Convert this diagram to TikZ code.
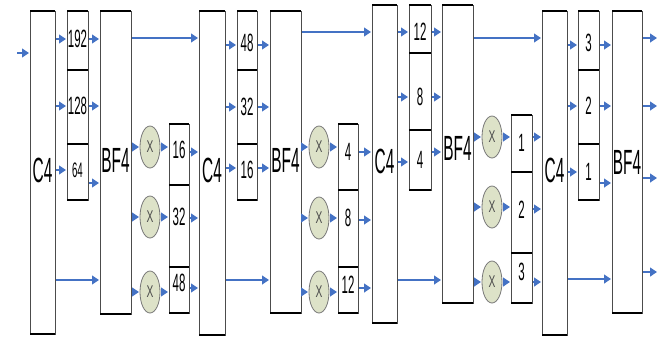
\documentclass[tikz,border=0pt]{standalone}
\usepackage{fontspec}
\setmainfont{Liberation Sans}
\newfontfamily\labfam[FakeStretch=0.44]{Liberation Sans}
\newfontfamily\numfam[FakeStretch=0.46]{Liberation Sans}
\newfontfamily\xfam[FakeStretch=0.6]{Liberation Sans}
\usetikzlibrary{arrows.meta,shapes.geometric}
\definecolor{arrblue}{RGB}{68,114,196}
\definecolor{mulfill}{RGB}{221,226,200}
\definecolor{mulline}{RGB}{120,120,120}
\tikzset{
  box/.style={draw=black!70,line width=0.7pt,inner sep=0pt,outer sep=0pt,anchor=north west},
  edge/.style={line width=1.3pt,black},
  big/.style={font=\labfam\fontsize{35}{35}\selectfont,inner sep=0pt},
  num/.style={font=\numfam\fontsize{25}{25}\selectfont,inner sep=0pt},
  numsmall/.style={font=\numfam\fontsize{21}{21}\selectfont,inner sep=0pt},
  mul/.style={ellipse,draw=mulline,fill=mulfill,line width=0.8pt,minimum width=20pt,minimum height=42pt,inner sep=0pt,outer sep=0pt,font=\xfam\fontsize{17}{17}\selectfont,text=black!70},
  arr/.style={draw=arrblue,line width=1.2pt,-{Triangle[length=7pt,width=9pt]},shorten >=1pt,shorten <=1pt}
}
% name, x1, y1, x2, y2, text, text y, text style
\newcommand\mybox[8]{%
  \node[box,minimum width={(#4-#2)*1pt},minimum height={(#5-#3)*1pt}] (#1) at (#2,#3) {};
  \draw[edge] (#1.north west) -- (#1.north east) (#1.south west) -- (#1.south east);
  \node[#8] (#1t) at ({(#2+#4)/2},#7) {#6};}
\newcommand\harr[3]{\draw[arr] (#1.east |- 0,#3) -- (#2.west |- 0,#3);}
\begin{document}
\begin{tikzpicture}[x=1pt,y=-1pt]
\useasboundingbox[fill=white] (0,0) rectangle (669,338);
% ---------- stage 1
\mybox{c1}{30}{11}{55}{334}{C4}{170}{big}
\mybox{t1a}{67}{11}{88}{70}{192}{39}{num}
\mybox{t1b}{67}{70}{88}{144}{128}{106}{num}
\mybox{t1c}{67}{144}{88}{200}{64}{170}{numsmall}
\mybox{bf1}{100}{11}{131}{314}{BF4}{160}{big}
\node[mul] (x1a) at (150,147) {X};
\node[mul] (x1b) at (150,217) {X};
\node[mul] (x1c) at (150,292) {X};
\mybox{m1a}{169}{124}{189}{185}{16}{150}{num}
\mybox{m1b}{169}{185}{189}{267}{32}{217}{num}
\mybox{m1c}{169}{267}{189}{313}{48}{283}{num}
% ---------- stage 2
\mybox{c2}{199}{11}{225}{335}{C4}{170}{big}
\mybox{t2a}{237}{11}{257}{70}{48}{43}{num}
\mybox{t2b}{237}{70}{257}{144}{32}{107}{num}
\mybox{t2c}{237}{144}{257}{200}{16}{170}{num}
\mybox{bf2}{270}{11}{301}{313}{BF4}{160}{big}
\node[mul] (x2a) at (319,147) {X};
\node[mul] (x2b) at (319,218) {X};
\node[mul] (x2c) at (319,292) {X};
\mybox{m2a}{338}{124}{358}{190}{4}{152}{num}
\mybox{m2b}{338}{190}{358}{267}{8}{218}{num}
\mybox{m2c}{338}{267}{358}{313}{12}{285}{num}
% ---------- stage 3
\mybox{c3}{372}{5}{397}{323}{C4}{161}{big}
\mybox{t3a}{409}{5}{431}{53}{12}{32}{num}
\mybox{t3b}{409}{53}{431}{130}{8}{97}{num}
\mybox{t3c}{409}{130}{431}{190}{4}{160}{num}
\mybox{bf3}{442}{5}{473}{303}{BF4}{148}{big}
\node[mul] (x3a) at (492,137) {X};
\node[mul] (x3b) at (492,207) {X};
\node[mul] (x3c) at (492,282) {X};
\mybox{m3a}{511}{115}{532}{172}{1}{143}{num}
\mybox{m3b}{511}{172}{532}{253}{2}{210}{num}
\mybox{m3c}{511}{253}{532}{303}{3}{272}{num}
% ---------- stage 4
\mybox{c4}{542}{11}{567}{335}{C4}{170}{big}
\mybox{t4a}{578}{11}{599}{70}{3}{43}{num}
\mybox{t4b}{578}{70}{599}{144}{2}{106}{num}
\mybox{t4c}{578}{144}{599}{200}{1}{172}{num}
\mybox{bf4}{612}{11}{642}{313}{BF4}{162}{big}
% ---------- connectors
\coordinate (in) at (16,53);
\draw[arr] (in) -- (c1.west |- in);
\harr{c1}{t1a}{39}\harr{c1}{t1b}{106}\harr{c1}{t1c}{170}
\harr{t1a}{bf1}{39}\harr{t1b}{bf1}{106}\harr{t1c}{bf1}{183}
\harr{c1}{bf1}{280}
\harr{bf1}{c2}{38}
\draw[arr] (bf1.east |- x1a) -- (x1a);
\draw[arr] (bf1.east |- x1b) -- (x1b);
\draw[arr] (bf1.east |- x1c) -- (x1c);
\draw[arr] (x1a) -- (m1a.west |- x1a);
\draw[arr] (x1b) -- (m1b.west |- x1b);
\draw[arr] (x1c) -- (m1c.west |- x1c);
\harr{m1a}{c2}{152}\harr{m1b}{c2}{218}\harr{m1c}{c2}{288}
%
\harr{c2}{t2a}{45}\harr{c2}{t2b}{107}\harr{c2}{t2c}{168}
\harr{t2a}{bf2}{45}\harr{t2b}{bf2}{107}\harr{t2c}{bf2}{168}
\harr{c2}{bf2}{280}
\harr{bf2}{c3}{32}
\draw[arr] (bf2.east |- x2a) -- (x2a);
\draw[arr] (bf2.east |- x2b) -- (x2b);
\draw[arr] (bf2.east |- x2c) -- (x2c);
\draw[arr] (x2a) -- (m2a.west |- x2a);
\draw[arr] (x2b) -- (m2b.west |- x2b);
\draw[arr] (x2c) -- (m2c.west |- x2c);
\harr{m2a}{c3}{152}\harr{m2b}{c3}{220}\harr{m2c}{c3}{288}
%
\harr{c3}{t3a}{32}\harr{c3}{t3b}{97}\harr{c3}{t3c}{162}
\harr{t3a}{bf3}{32}\harr{t3b}{bf3}{97}\harr{t3c}{bf3}{152}
\harr{c3}{bf3}{280}
\harr{bf3}{c4}{38}
\draw[arr] (bf3.east |- x3a) -- (x3a);
\draw[arr] (bf3.east |- x3b) -- (x3b);
\draw[arr] (bf3.east |- x3c) -- (x3c);
\draw[arr] (x3a) -- (m3a.west |- x3a);
\draw[arr] (x3b) -- (m3b.west |- x3b);
\draw[arr] (x3c) -- (m3c.west |- x3c);
\harr{m3a}{c4}{137}\harr{m3b}{c4}{209}\harr{m3c}{c4}{282}
%
\harr{c4}{t4a}{45}\harr{c4}{t4b}{106}\harr{c4}{t4c}{172}
\harr{t4a}{bf4}{45}\harr{t4b}{bf4}{106}\harr{t4c}{bf4}{183}
\harr{c4}{bf4}{279}
\coordinate (o1) at (658,38);
\coordinate (o2) at (658,106);
\coordinate (o3) at (658,178);
\coordinate (o4) at (658,272);
\draw[arr] (bf4.east |- o1) -- (o1);
\draw[arr] (bf4.east |- o2) -- (o2);
\draw[arr] (bf4.east |- o3) -- (o3);
\draw[arr] (bf4.east |- o4) -- (o4);
\end{tikzpicture}
\end{document}
